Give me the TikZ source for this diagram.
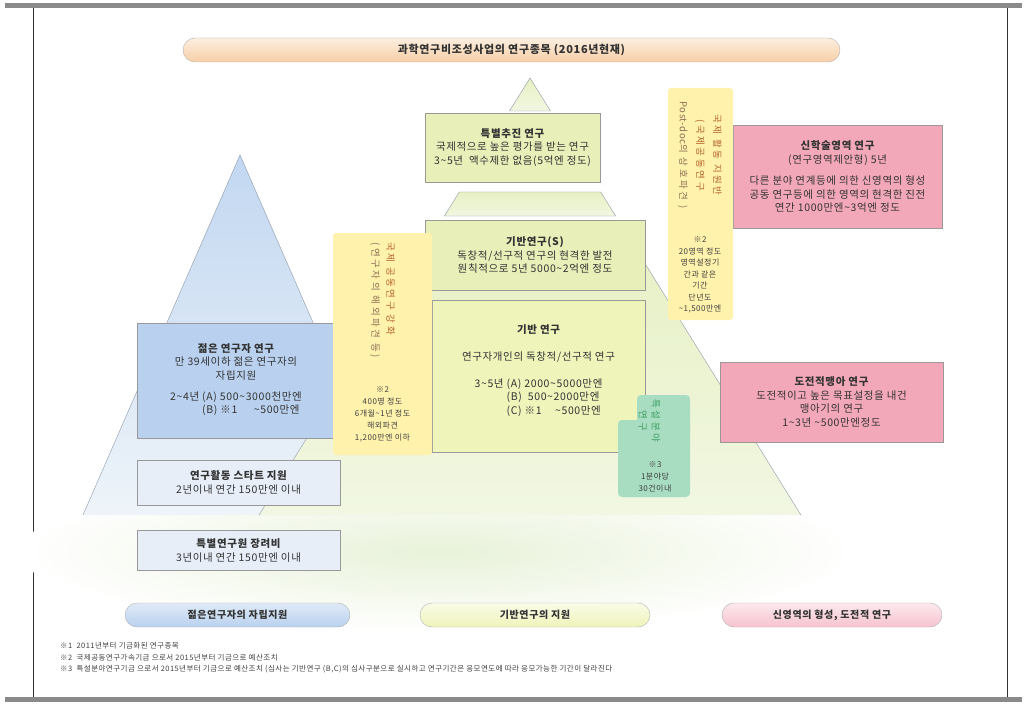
\documentclass[tikz,border=0pt]{standalone}
\usepackage{fontspec}
\setmainfont{Noto Sans CJK KR}[LetterSpace=6]
\newfontfamily\tatefont{Noto Sans CJK KR}[LetterSpace=28]
\usepackage{tikz}
\usetikzlibrary{positioning}

\definecolor{framegray}{HTML}{8A8A8A}
\definecolor{edgegray}{HTML}{8C99A8}
\definecolor{groundgreen}{HTML}{E8F2D9}
\definecolor{lpyrtop}{HTML}{C2D7F1}
\definecolor{lpyrbot}{HTML}{EEF4F9}
\definecolor{cpyrtop}{HTML}{E6F0C2}
\definecolor{cpyrbot}{HTML}{F1F7E2}
\definecolor{tokuyel}{HTML}{E8EFB8}
\definecolor{kibanyel}{HTML}{EFF4BA}
\definecolor{newpink}{HTML}{F3A8BA}
\definecolor{youngblue}{HTML}{B9D1EE}
\definecolor{startblue}{HTML}{E7EEF8}
\definecolor{tateyel}{HTML}{FFF2AC}
\definecolor{tealbox}{HTML}{A8DDC2}
\definecolor{brownt}{HTML}{B5652C}
\definecolor{browng}{HTML}{8C6E55}
\definecolor{greent}{HTML}{3E9E62}
\definecolor{peach}{HTML}{F7CFA6}

\newcommand{\wave}{\textasciitilde}

\begin{document}
\begin{tikzpicture}[x=1pt,y=-1pt,
  grant box/.style={draw=black!40,align=center,inner sep=2pt,text=black!80,
    font=\fontsize{10.5}{13.5}\selectfont},
  tate box/.style={fill=tateyel,rounded corners=3pt,inner sep=0pt},
  teal box/.style={fill=tealbox,rounded corners=4pt,inner sep=0pt},
  tate text/.style={rotate=-90,inner sep=0pt,font=\tatefont\fontsize{9.5}{15}\selectfont},
  note text/.style={align=center,inner sep=0pt,text=black!75,font=\fontsize{8}{12}\selectfont},
  pill/.style={rounded corners=12pt,draw=black!30,minimum height=24,inner sep=0pt,
    text=black!80,font=\bfseries\fontsize{10}{12}\selectfont},
  foot note/.style={inner sep=0pt,anchor=north west,text=black!75,font=\fontsize{7.5}{9}\selectfont},
  pyramid left/.style={top color=lpyrtop,bottom color=lpyrbot},
  pyramid mid/.style={top color=cpyrtop,bottom color=cpyrbot}]

  \useasboundingbox (0,0) rectangle (1030,714);

  % frame
  \fill[framegray] (5,3) rectangle (1022,8);
  \fill[framegray] (5,697) rectangle (1022,702);
  \draw[black!80] (33,8) -- (33,697);
  \draw[black!80] (1007,8) -- (1007,697);

  % ground and pyramids
  \shade[inner color=groundgreen,outer color=white] (440,552) ellipse (420 and 80);
  \path[pyramid left] (240,155) -- (397,515) -- (83,515) -- cycle;
  \draw[edgegray] (83,515) -- (240,155) -- (397,515);
  \path[pyramid mid,draw=edgegray] (530,78) -- (550.5,111) -- (509.5,111) -- cycle;
  \path[pyramid mid,draw=edgegray] (459.3,192) -- (600.7,192) -- (615.6,216) -- (444.4,216) -- cycle;
  \path[pyramid mid] (440.7,222) -- (619.3,222) -- (800.9,515) -- (259.1,515) -- cycle;
  \draw[edgegray] (259.1,515) -- (440.7,222) (619.3,222) -- (800.9,515);

  \node[pill,minimum width=657,top color=peach!35!white,bottom color=peach] (title) at (511.5,50)
    {\fontsize{11}{13}\selectfont 과학연구비조성사업의 연구종목 (2016년현재)};

  % kiban column
  \node[grant box,fill=tokuyel,minimum width=175,minimum height=69] (tokusui) at (512.5,147.5)
    {{\bfseries 특별추진 연구}\\국제적으로 높은 평가를 받는 연구\\3\wave5년\ \ 액수제한 없음(5억엔 정도)};
  \node[grant box,fill=tokuyel,minimum width=220,minimum height=70] (kibanS) at (535,255)
    {{\bfseries 기반연구(S)}\\독창적/선구적 연구의 현격한 발전\\원칙적으로 5년 5000\wave2억엔 정도};
  \node[grant box,fill=kibanyel,minimum width=213,minimum height=152] (kiban) at (538.5,376)
    {{\bfseries 기반 연구}\\[14pt]연구자개인의 독창적/선구적 연구\\[14pt]
     \begin{tabular}{@{}l@{ }l@{}}3\wave5년 & (A) 2000\wave5000만엔\\
       & (B)\ \ 500\wave2000만엔\\ & (C) ※1\quad\ \wave500만엔\end{tabular}\\[8pt]};

  % new area column
  \node[grant box,fill=newpink,minimum width=209,minimum height=103] (shingaku) at (837.5,176.5)
    {{\bfseries 신학술영역 연구}\\(연구영역제안형) 5년\\[8pt]다른 분야 연계등에 의한 신영역의 형성\\
     공동 연구등에 의한 영역의 현격한 진전\\연간 1000만엔\wave3억엔 정도};
  \node[grant box,fill=newpink,minimum width=223,minimum height=80] (houga) at (831.5,402)
    {{\bfseries 도전적맹아 연구}\\도전적이고 높은 목표설정을 내건\\맹아기의 연구\\1\wave3년 \wave500만엔정도};

  % young column
  \node[grant box,fill=youngblue,minimum width=198,minimum height=115] (wakate) at (236,380.5)
    {{\bfseries 젊은 연구자 연구}\\만 39세이하 젊은 연구자의\\자립지원\\[10pt]
     \begin{tabular}{@{}l@{ }l@{}}2\wave4년 & (A) 500\wave3000천만엔\\ & (B) ※1\quad\ \ \wave500만엔\end{tabular}};
  \node[grant box,fill=startblue,minimum width=203,minimum height=45] (start) at (238.5,482.5)
    {{\bfseries 연구활동 스타트 지원}\\2년이내 연간 150만엔 이내};
  \node[grant box,fill=startblue,minimum width=203,minimum height=40] (shoreihi) [below=25pt of start]
    {{\bfseries 특별연구원 장려비}\\3년이내 연간 150만엔 이내};

  % international boxes
  \node[tate box,minimum width=99,minimum height=222] (kokusaiL) at (382.5,344) {};
  \node[tate text,anchor=west,align=left] (kokusaiLv) at (382.5,242)
    {\textcolor{brownt}{국제 공동연구 강화}\\\textcolor{browng}{(연구자의 해외파견 등)}};
  \node[note text] (kokusaiLn) at (382.5,414) {※2\\400명 정도\\6개월\wave1년 정도\\해외파견\\1,200만엔 이하};

  \node[tate box,minimum width=65,minimum height=232] (kokusaiR) at (700.5,204) {};
  \node[tate text,align=center,font=\tatefont\fontsize{9.5}{17}\selectfont] (kokusaiRv) at (700,155)
    {\textcolor{brownt}{국제 활동 지원반}\\\textcolor{brownt}{(국제공동연구}\\
     \textcolor{browng}{{\addfontfeature{LetterSpace=6}Post-doc}의 상호파견 )}};
  \node[note text,font=\fontsize{8}{11.5}\selectfont] (kokusaiRn) at (700,275)
    {※2\\20영역 정도\\영역설정기\\간과 같은\\기간\\단년도\\\wave1,500만엔};

  % tokusetsu box
  \node[teal box,minimum width=53,minimum height=40] (tokusetsuTab) at (663.5,415) {};
  \node[teal box,minimum width=72,minimum height=77] (tokusetsu) at (654,458.5) {};
  \node[tate text,align=center,font=\tatefont\fontsize{9.5}{13}\selectfont] (tokusetsuv) at (649.5,421)
    {\textcolor{greent}{특설분야}\\\textcolor{greent}{연구}};
  \node[note text] (tokusetsun) at (655,477) {※3\\1분야당\\30건이내};

  % bottom labels
  \node[pill,minimum width=225,top color=youngblue!45!white,bottom color=youngblue] (lblYoung) at (237.5,615)
    {젊은연구자의 자립지원};
  \node[pill,minimum width=230,top color=kibanyel!35!white,bottom color=kibanyel] (lblKiban) at (535,615)
    {기반연구의 지원};
  \node[pill,minimum width=220,top color=newpink!25!white,bottom color=newpink!70!white] (lblNew) at (832,615)
    {신영역의 형성, 도전적 연구};

  % notes
  \node[foot note] (fn1) at (60,642) {※1\ \ 2011년부터 기금화된 연구종목};
  \node[foot note] (fn2) [below=4.5pt of fn1.south west,anchor=north west] {※2\ \ 국제공동연구가속기금 으로서 2015년부터 기금으로 예산조치};
  \node[foot note] (fn3) [below=4.5pt of fn2.south west,anchor=north west] {※3\ \ 특설분야연구기금 으로서 2015년부터 기금으로 예산조치 (심사는 기반연구 (B,C)의 심사구분으로 실시하고 연구기간은 응모연도에 따라 응모가능한 기간이 달라진다};
\end{tikzpicture}
\end{document}
